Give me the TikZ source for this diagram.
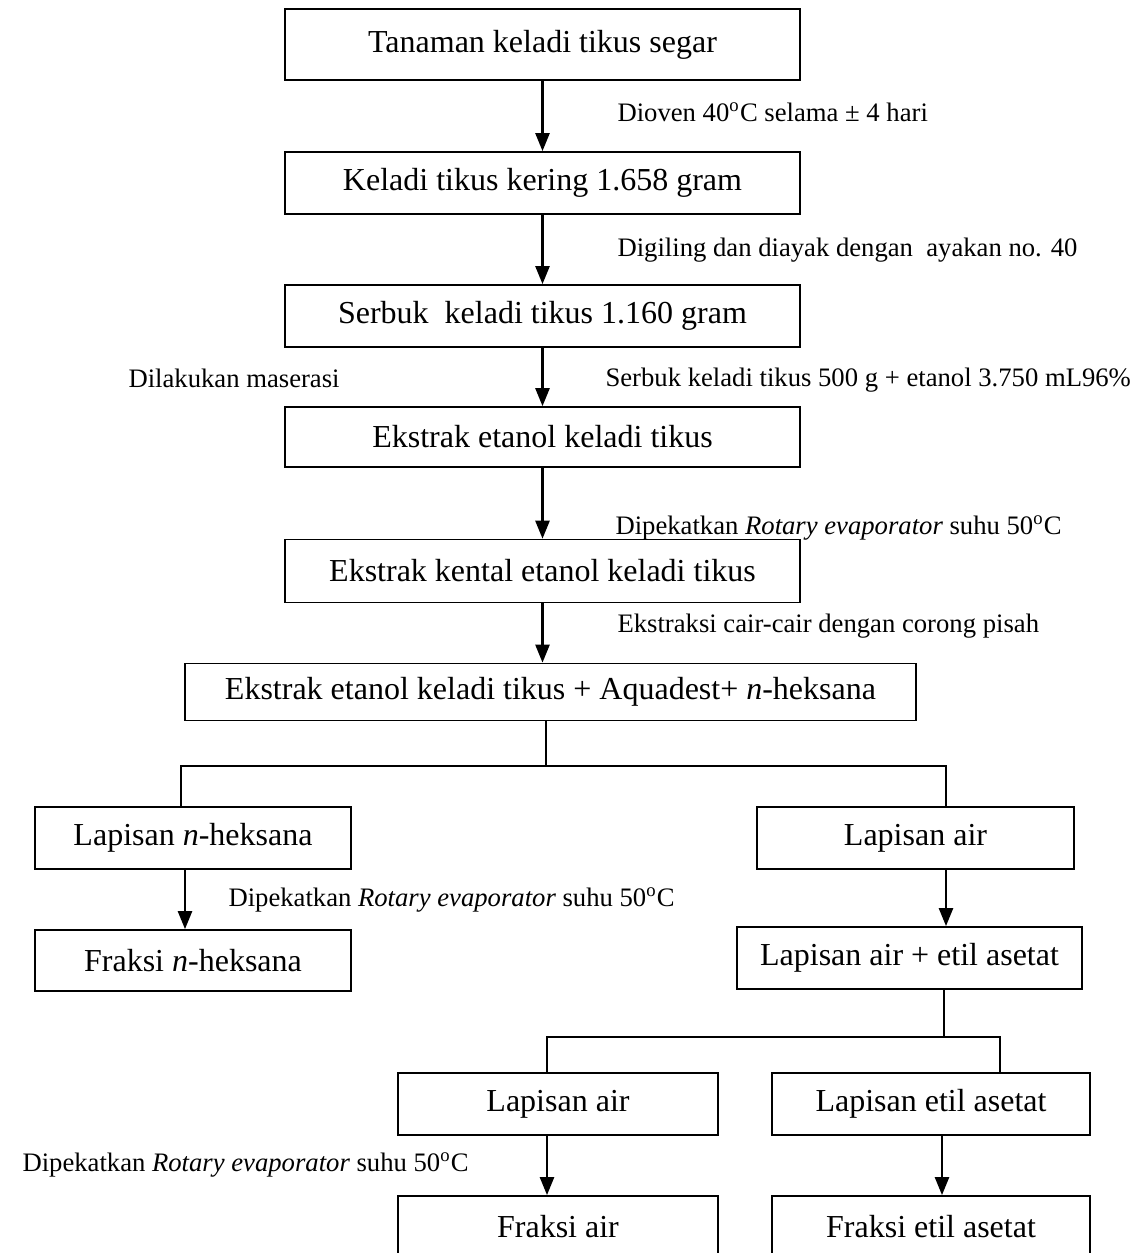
\documentclass[tikz,border=0pt]{standalone}
\usepackage{fontspec}
\setmainfont{Liberation Serif}
\usetikzlibrary{arrows.meta}

\tikzset{
  kotak/.style={draw, line width=0.55pt, inner sep=0pt, font=\fontsize{12}{14}\selectfont},
  ket/.style={anchor=west, inner sep=0pt, font=\fontsize{10}{12}\selectfont},
  panah/.style={-{Triangle[width=5.2pt,length=6.8pt]}, line width=1.1pt},
  garis/.style={line width=0.55pt}
}

\begin{document}
\begin{tikzpicture}[x=0.375pt, y=-0.375pt]
\useasboundingbox (0,0) rectangle (1141,1253);

% --- alur utama ---
\node[kotak, minimum width=193.1pt, minimum height=26.6pt] (tanaman) at (542.5,44.5) {Tanaman keladi tikus segar};
\node[kotak, minimum width=193.1pt, minimum height=23.3pt] (kering) at (542.5,183) {Keladi tikus kering 1.658 gram};
\node[kotak, minimum width=193.1pt, minimum height=23.3pt] (serbuk) at (542.5,316) {Serbuk~ keladi tikus 1.160 gram};
\node[kotak, minimum width=193.1pt, minimum height=22.5pt] (ekstrak) at (542.5,437) {Ekstrak etanol keladi tikus};
\node[kotak, minimum width=193.1pt, minimum height=23.6pt] (kental) at (542.5,571) {Ekstrak kental etanol keladi tikus};
\node[kotak, minimum width=274.1pt, minimum height=21.4pt] (corong) at (550.5,692) {Ekstrak etanol keladi tikus + Aquadest+ \textit{n}-heksana};

\draw[panah] (tanaman) -- (kering);
\draw[panah] (kering) -- (serbuk);
\draw[panah] (serbuk) -- (ekstrak);
\draw[panah] (ekstrak) -- (kental);
\draw[panah] (kental) -- (corong.north -| kental.south);

\node[ket] (l1) at (617,112) {Dioven 40\textsuperscript{o}C selama ± 4 hari};
\node[ket] (l2) at (617,250) {Digiling dan diayak dengan~ ayakan no. 40};
\node[ket] (l3) at (128,378) {Dilakukan maserasi};
\node[ket] (l4) at (605,380) {Serbuk keladi tikus 500 g + etanol 3.750 mL96\%};
\node[ket] (l5) at (615,528) {Dipekatkan \textit{Rotary evaporator} suhu 50\textsuperscript{o}C};
\node[ket] (l6) at (617,626) {Ekstraksi cair-cair dengan corong pisah};

% --- pemisahan pertama ---
\node[kotak, minimum width=118.5pt, minimum height=23.3pt] (lapheks) at (193,838) {Lapisan \textit{n}-heksana};
\node[kotak, minimum width=118.9pt, minimum height=23.3pt] (lapair) at (915.5,838) {Lapisan air};
\node[kotak, minimum width=118.5pt, minimum height=22.9pt] (frheks) at (193,960.5) {Fraksi \textit{n}-heksana};
\node[kotak, minimum width=129.4pt, minimum height=23.3pt] (airetil) at (909.5,958) {Lapisan air + etil asetat};

\coordinate (pisah1) at (546,766);
\coordinate (pisah1kiri) at (181,766);
\coordinate (pisah1kanan) at (946,766);
\draw[garis] (corong.south -| pisah1) -- (pisah1);
\draw[garis] (lapheks.north -| pisah1kiri) -- (pisah1kiri) -- (pisah1kanan) -- (lapair.north -| pisah1kanan);

\coordinate (kolheks) at (185,0);
\draw[panah] (lapheks.south -| kolheks) -- (frheks.north -| kolheks);
\draw[panah] (lapair.south -| pisah1kanan) -- (airetil.north -| pisah1kanan);

\node[ket] (l7) at (228,900) {Dipekatkan \textit{Rotary evaporator} suhu 50\textsuperscript{o}C};

% --- pemisahan kedua ---
\node[kotak, minimum width=120pt, minimum height=23.3pt] (lapair2) at (558,1104) {Lapisan air};
\node[kotak, minimum width=119.3pt, minimum height=23.3pt] (lapetil) at (931,1104) {Lapisan etil asetat};
\node[kotak, minimum width=120pt, minimum height=23.3pt] (frair) at (558,1227) {Fraksi air};
\node[kotak, minimum width=119.3pt, minimum height=23.3pt] (fretil) at (931,1227) {Fraksi etil asetat};

\coordinate (pisah2) at (944,1037);
\coordinate (pisah2kiri) at (547,1037);
\coordinate (pisah2kanan) at (1000,1037);
\draw[garis] (airetil.south -| pisah2) -- (pisah2);
\draw[garis] (lapair2.north -| pisah2kiri) -- (pisah2kiri) -- (pisah2kanan) -- (lapetil.north -| pisah2kanan);

\coordinate (koletil) at (942,0);
\draw[panah] (lapair2.south -| pisah2kiri) -- (frair.north -| pisah2kiri);
\draw[panah] (lapetil.south -| koletil) -- (fretil.north -| koletil);

\node[ket] (l8) at (22,1165) {Dipekatkan \textit{Rotary evaporator} suhu 50\textsuperscript{o}C};

\end{tikzpicture}
\end{document}
